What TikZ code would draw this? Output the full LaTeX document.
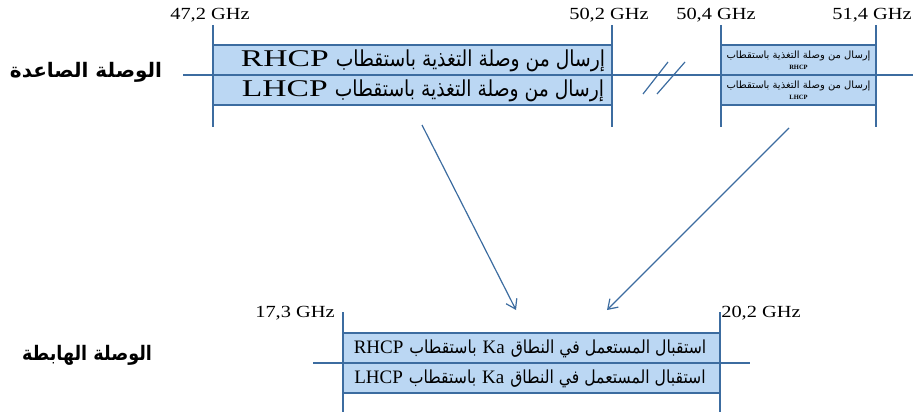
\documentclass[tikz,border=0pt]{standalone}
\usepackage{fontspec}
\usepackage{graphicx}
\usetikzlibrary{arrows.meta}
\TeXXeTstate=1
\setmainfont{Liberation Serif}
\newfontfamily\arabicfont[Script=Arabic]{DejaVu Sans}
\definecolor{bandfill}{RGB}{187,215,243}
\definecolor{lineblue}{RGB}{60,108,160}
\newcommand{\ar}[1]{{\arabicfont\beginR #1\endR}}
% top band line: Latin word (left) + Arabic phrase
\newcommand{\topline}[1]{\hbox{\scalebox{1.4}[1]{\fontsize{24}{24}\selectfont #1}\hspace{7pt}\scalebox{0.85}[1]{\fontsize{22}{22}\selectfont\ar{إرسال من وصلة التغذية باستقطاب}}}}
% bottom band line
\newcommand{\botline}[1]{\hbox{{\fontsize{19}{19}\selectfont #1}\hspace{6pt}\scalebox{0.87}[1]{\fontsize{18}{18}\selectfont\ar{باستقطاب}}\hspace{6pt}{\fontsize{19}{19}\selectfont Ka}\hspace{6pt}\scalebox{0.87}[1]{\fontsize{18}{18}\selectfont\ar{استقبال المستعمل في النطاق}}}}
\tikzset{
  x=1pt, y=-1pt,
  band/.style={draw=lineblue, line width=1.4pt, fill=bandfill, inner sep=0pt, minimum height=30pt},
  axis/.style={draw=lineblue, line width=1.2pt},
  freqlbl/.style={inner sep=0pt, font=\fontsize{17}{17}\selectfont},
  sidelbl/.style={inner sep=0pt, font=\fontsize{20}{20}\selectfont\bfseries},
  link/.style={draw=lineblue, line width=1.2pt, -{Straight Barb[length=9pt,width=12pt,line width=1.2pt]}},
}
\newcommand{\fq}[1]{\scalebox{1.2}[1]{#1}}
\begin{document}
\begin{tikzpicture}
\useasboundingbox (0,0) rectangle (913,414);
% ---------- uplink axis ----------
\coordinate (ua0) at (183,75);
\coordinate (ua1) at (913,75);
\draw[axis] (ua0) -- (ua1);
\foreach \n/\x in {t1/213, t2/612, t3/721, t4/876} {
  \coordinate (\n a) at (\x,25);
  \coordinate (\n b) at (\x,127);
}
% bands
\node[band, minimum width=399pt] (up1) at (412.5,60) {};
\node[band, minimum width=399pt] (up2) at (412.5,90) {};
\node[inner sep=0pt] (up1t) at (423,61) {\topline{RHCP}};
\node[inner sep=0pt] (up2t) at (423,91) {\topline{LHCP}};
\node[band, minimum width=155pt, align=center, font=\fontsize{10}{11}\selectfont] (up3) at (798.5,60) {\ar{إرسال من وصلة التغذية باستقطاب}\\[0pt]{\fontsize{6.5}{6.5}\selectfont\bfseries RHCP}};
\node[band, minimum width=155pt, align=center, font=\fontsize{10}{11}\selectfont] (up4) at (798.5,90) {\ar{إرسال من وصلة التغذية باستقطاب}\\[0pt]{\fontsize{6.5}{6.5}\selectfont\bfseries LHCP}};
\foreach \n in {t1,t2,t3,t4} { \draw[axis] (\n a) -- (\n b); }
% break
\coordinate (bk1a) at (643,94); \coordinate (bk1b) at (668,62);
\coordinate (bk2a) at (657,94); \coordinate (bk2b) at (685,62);
\draw[axis] (bk1a) -- (bk1b);
\draw[axis] (bk2a) -- (bk2b);
% labels
\node[freqlbl] (f1) at (210,15) {\fq{47,2 GHz}};
\node[freqlbl] (f2) at (609,15) {\fq{50,2 GHz}};
\node[freqlbl] (f3) at (716,15) {\fq{50,4 GHz}};
\node[freqlbl] (f4) at (872,15) {\fq{51,4 GHz}};
\node[sidelbl] (upl) at (86,72) {\ar{الوصلة الصاعدة}};
% ---------- downlink axis ----------
\coordinate (da0) at (313,363);
\coordinate (da1) at (750,363);
\draw[axis] (da0) -- (da1);
\node[band, minimum width=377pt] (dn1) at (531.5,348) {};
\node[band, minimum width=377pt] (dn2) at (531.5,378) {};
\node[inner sep=0pt] (dn1t) at (530,349) {\botline{RHCP}};
\node[inner sep=0pt] (dn2t) at (530,379) {\botline{LHCP}};
\coordinate (b1a) at (343,312); \coordinate (b1b) at (343,412);
\coordinate (b2a) at (720,312); \coordinate (b2b) at (720,412);
\draw[axis] (b1a) -- (b1b);
\draw[axis] (b2a) -- (b2b);
\node[freqlbl] (f5) at (295,313) {\fq{17,3 GHz}};
\node[freqlbl] (f6) at (761,313) {\fq{20,2 GHz}};
\node[sidelbl] (dnl) at (87,355) {\scalebox{0.88}[1]{\ar{الوصلة الهابطة}}};
% ---------- arrows ----------
\coordinate (s1) at (422,125); \coordinate (e1) at (516,310);
\coordinate (s2) at (789,128); \coordinate (e2) at (607,310);
\draw[link] (s1) -- (e1);
\draw[link] (s2) -- (e2);
\end{tikzpicture}
\end{document}
